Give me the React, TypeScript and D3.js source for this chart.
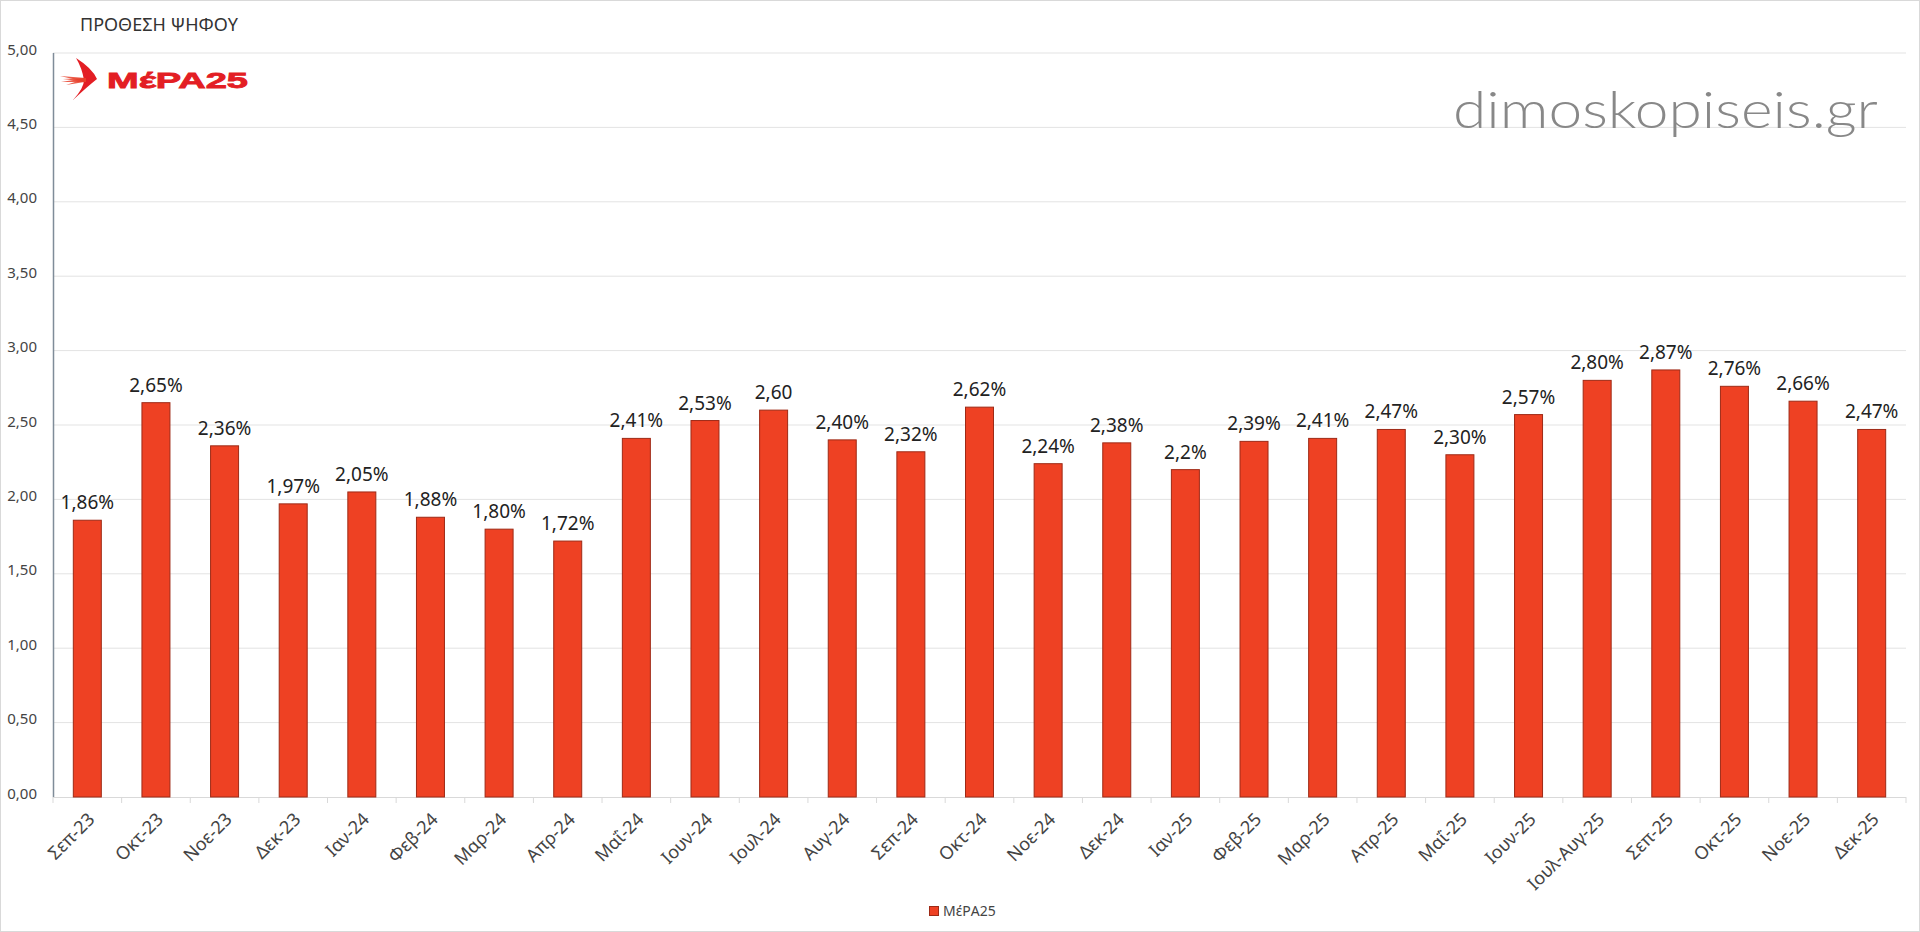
import React, { useEffect, useRef } from "react";
import * as d3 from "d3";

const categories = [
  "Σεπ-23", "Οκτ-23", "Νοε-23", "Δεκ-23", "Ιαν-24", "Φεβ-24", "Μαρ-24", "Απρ-24",
  "Μαΐ-24", "Ιουν-24", "Ιουλ-24", "Αυγ-24", "Σεπ-24", "Οκτ-24", "Νοε-24", "Δεκ-24",
  "Ιαν-25", "Φεβ-25", "Μαρ-25", "Απρ-25", "Μαΐ-25", "Ιουν-25", "Ιουλ-Αυγ-25",
  "Σεπ-25", "Οκτ-25", "Νοε-25", "Δεκ-25",
];
const values = [
  1.86, 2.65, 2.36, 1.97, 2.05, 1.88, 1.8, 1.72, 2.41, 2.53, 2.6, 2.4, 2.32, 2.62,
  2.24, 2.38, 2.2, 2.39, 2.41, 2.47, 2.3, 2.57, 2.8, 2.87, 2.76, 2.66, 2.47,
];
const valueLabels = [
  "1,86%", "2,65%", "2,36%", "1,97%", "2,05%", "1,88%", "1,80%", "1,72%", "2,41%",
  "2,53%", "2,60", "2,40%", "2,32%", "2,62%", "2,24%", "2,38%", "2,2%", "2,39%",
  "2,41%", "2,47%", "2,30%", "2,57%", "2,80%", "2,87%", "2,76%", "2,66%", "2,47%",
];
const yTicks = [0, 0.5, 1, 1.5, 2, 2.5, 3, 3.5, 4, 4.5, 5];
const title = "ΠΡΟΘΕΣΗ ΨΗΦΟΥ";
const seriesName = "ΜέΡΑ25";

const W = 1920, H = 932;
const left = 53, right = 1906, top = 53, bottom = 797;
const FONT = "'Noto Sans', 'Open Sans', sans-serif";

export default function App() {
  const ref = useRef<SVGSVGElement>(null);
  useEffect(() => {
    const svg = d3.select(ref.current);
    svg.selectAll("*").remove();
    const x = d3.scaleBand<string>().domain(categories).range([left, right]).paddingInner(0).paddingOuter(0);
    const y = d3.scaleLinear().domain([0, 5]).range([bottom, top]);

    svg.append("rect").attr("x", 0.5).attr("y", 0.5).attr("width", W - 1).attr("height", H - 1)
      .attr("fill", "#fff").attr("stroke", "#d9d9d9");

    // gridlines
    svg.append("g").selectAll("line").data(yTicks.filter(t => t > 0)).join("line")
      .attr("x1", left).attr("x2", right).attr("y1", d => y(d)).attr("y2", d => y(d))
      .attr("stroke", "#e3e3e3").attr("stroke-width", 1);

    // y tick labels
    svg.append("g").selectAll("text").data(yTicks).join("text")
      .attr("x", 37).attr("y", d => y(d)).attr("dy", "0.1em")
      .attr("text-anchor", "end").attr("font-family", FONT).attr("font-size", 15)
      .attr("fill", "#444").text(d => d3.format(".2f")(d).replace(".", ","));

    // x axis line and ticks
    svg.append("line").attr("x1", left).attr("x2", right).attr("y1", bottom + 0.5).attr("y2", bottom + 0.5)
      .attr("stroke", "#d9d9d9");
    const tickPos = categories.map(c => x(c)!).concat([right]);
    svg.append("g").selectAll("line").data(tickPos).join("line")
      .attr("x1", d => d).attr("x2", d => d).attr("y1", bottom).attr("y2", bottom + 6)
      .attr("stroke", "#d9d9d9");

    // bars
    const bw = 28;
    svg.append("g").selectAll("rect").data(values).join("rect")
      .attr("x", (d, i) => x(categories[i])! + x.bandwidth() / 2 - bw / 2)
      .attr("y", d => y(d)).attr("width", bw).attr("height", d => bottom - y(d))
      .attr("fill", "#EE4123").attr("stroke", "#9E2A16").attr("stroke-width", 1);

    // value labels
    svg.append("g").selectAll("text").data(values).join("text")
      .attr("x", (d, i) => x(categories[i])! + x.bandwidth() / 2)
      .attr("y", d => y(d) - 11).attr("text-anchor", "middle")
      .attr("font-family", FONT).attr("font-size", 19).attr("fill", "#222")
      .text((d, i) => valueLabels[i]);

    // y axis line
    svg.append("line").attr("x1", left + 0.5).attr("x2", left + 0.5).attr("y1", top).attr("y2", bottom)
      .attr("stroke", "#7f8c99").attr("stroke-width", 1.5);

    // x labels
    svg.append("g").selectAll("text").data(categories).join("text")
      .attr("transform", d => `translate(${x(d)! + x.bandwidth() / 2 + 4},${bottom + 19}) rotate(-45)`)
      .attr("text-anchor", "end").attr("dy", "0.35em")
      .attr("font-family", FONT).attr("font-size", 18).attr("fill", "#444").text(d => d);

    // title
    svg.append("text").attr("x", 80).attr("y", 31).attr("font-family", FONT).attr("font-size", 18)
      .attr("fill", "#333").text(title);

    // logo
    const logo = svg.append("g");
    logo.append("path")
      .attr("d", "M76 58 Q92 68 97 79 Q88 86 73 100 Q84 88 84 80 Q82 68 76 58 Z")
      .attr("fill", "#E31E24");
    [[60, 76, 1.6], [63, 79, 1.4], [61, 82, 1.6], [66, 85, 1.2]].forEach(([x0, y0, w]) => {
      logo.append("path")
        .attr("d", `M${x0} ${y0} L86 ${79.5 - w} L86 ${80.5 + w} Z`)
        .attr("fill", "#E8412C").attr("opacity", 0.85);
    });
    logo.append("text").attr("x", 107).attr("y", 87.5).attr("font-family", "'Liberation Sans', Arial, sans-serif")
      .attr("font-weight", 900).attr("font-size", 22).attr("fill", "#E31E24")
      .attr("textLength", 141).attr("lengthAdjust", "spacingAndGlyphs").style("stroke", "#E31E24").style("stroke-width", 0.8)
      .text("ΜέΡΑ25");

    // watermark
    svg.append("text").attr("x", 1453).attr("y", 128).attr("font-family", "Lato, sans-serif")
      .attr("font-weight", 300).attr("font-size", 52).attr("fill", "#888")
      .attr("textLength", 425).attr("lengthAdjust", "spacingAndGlyphs").text("dimoskopiseis.gr");

    // legend
    svg.append("rect").attr("x", 929.5).attr("y", 906.5).attr("width", 9).attr("height", 9)
      .attr("fill", "#EE4123").attr("stroke", "#9E2A16");
    svg.append("text").attr("x", 943).attr("y", 916).attr("font-family", FONT).attr("font-size", 14)
      .attr("fill", "#444").text(seriesName);
  }, []);
  return (
    <svg ref={ref} width={W} height={H} style={{ position: "absolute", left: 0, top: 0, display: "block" }} />
  );
}
